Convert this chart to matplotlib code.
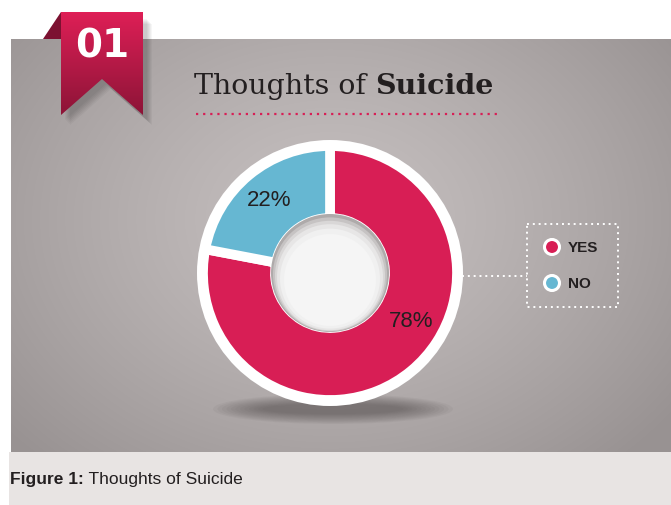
import numpy as np
import matplotlib
matplotlib.use('Agg')
import matplotlib.pyplot as plt
from matplotlib.patches import Polygon, Circle, Ellipse, Rectangle

# chart data
answers = ['YES', 'NO']
shares = [78, 22]
share_labels = ['78%', '22%']
slice_colors = ['#d81e55', '#66b7d2']
title_plain = 'Thoughts of '
title_bold = 'Suicide'
badge = '01'
caption_bold = 'Figure 1:'
caption_rest = ' Thoughts of Suicide'

W, H = 671, 506
narrow = ['Liberation Sans Narrow', 'Liberation Sans']
ink = '#231f20'

fig = plt.figure(figsize=(W / 100, H / 100), dpi=100)
fig.patch.set_facecolor('white')
ax = fig.add_axes([0, 0, 1, 1])
ax.set_xlim(0, W)
ax.set_ylim(H, 0)
ax.axis('off')

# gray panel with radial shading
px0, px1, py0, py1 = 11, W, 40, 453
yy, xx = np.mgrid[py0:py1, px0:px1]
d = np.clip(np.hypot((xx - 330) / 430, (yy - 220) / 330), 0, 1)
light = np.array([197, 191, 191]) / 255
dark = np.array([152, 146, 146]) / 255
img = light + (dark - light) * (d ** 1.3)[..., None]
ax.imshow(img, extent=(px0, px1, py1, py0), origin='upper', aspect='auto', zorder=0)

# caption band
ax.add_patch(Rectangle((9, 453), W - 9, 53, facecolor='#e8e4e3', edgecolor='none', zorder=1))
cap = ax.text(10, 480, caption_bold, family=narrow, weight='bold', fontsize=12.5,
              color=ink, va='center', ha='left', zorder=2)
ax.annotate(caption_rest, xy=(1, 0.5), xycoords=cap, va='center', ha='left',
            family=narrow, fontsize=12.5, color=ink, zorder=2)

# ribbon badge
ax.add_patch(Polygon([(43, 40), (61, 13), (61, 40)], closed=True,
                     facecolor='#7c1131', edgecolor='none', zorder=3))
for k in range(6):
    ax.add_patch(Polygon([(65 + k, 20 + k), (147 + k, 20 + k), (147 + k, 121 + k),
                          (106 + k, 85 + k), (65 + k, 121 + k)], closed=True,
                         facecolor='black', alpha=0.035, edgecolor='none', zorder=3))
rib = Polygon([(61, 13), (143, 13), (143, 116), (102, 80), (61, 116)], closed=True,
              facecolor='none', edgecolor='none', zorder=4)
ax.add_patch(rib)
grad = np.linspace(0, 1, 100)[:, None, None]
top_c = np.array([222, 31, 86]) / 255
bot_c = np.array([140, 20, 55]) / 255
rib_img = top_c + (bot_c - top_c) * grad
rib_img = np.repeat(rib_img, 2, axis=1)
im = ax.imshow(rib_img, extent=(61, 143, 116, 13), origin='upper', aspect='auto', zorder=4)
im.set_clip_path(rib)
ax.text(102, 46, badge, color='white', fontsize=28, weight='bold', family='DejaVu Sans',
        ha='center', va='center', zorder=5)

# title
t1 = ax.text(194, 100, title_plain, family='DejaVu Serif', fontsize=20.5, color=ink,
             ha='left', va='bottom', zorder=5)
ax.annotate(title_bold, xy=(1, 0), xycoords=t1, family='DejaVu Serif', weight='bold',
            fontsize=20.5, color=ink, ha='left', va='bottom', zorder=5)
ax.plot([196, 499], [115, 115], color='#d81e55', lw=1.6, ls=(0, (1, 2.2)), zorder=5)

# shadow under the donut
for k in range(12):
    ax.add_patch(Ellipse((333, 410), 240 - k * 9, 30 - k * 1.8, facecolor='#4a4444',
                         alpha=0.055, edgecolor='none', zorder=2))

# legend
ax.add_patch(Rectangle((527, 225), 91, 83, facecolor='none', edgecolor='white',
                       lw=1.4, ls=(0, (1, 2)), zorder=5))
ax.plot([462, 527], [277, 277], color='white', lw=1.4, ls=(0, (1, 2)), zorder=5)
for i, (name, col) in enumerate(zip(answers, slice_colors)):
    y = 248 + i * 36
    ax.add_patch(Circle((552, y), 7.5, facecolor=col, edgecolor='white', lw=2.2, zorder=6))
    ax.text(568, y, name, family=narrow, weight='bold', fontsize=11, color=ink,
            ha='left', va='center', zorder=6)

# donut
cx, cy, half = 330, 274, 136
pax = fig.add_axes([(cx - half) / W, (H - cy - half) / H, 2 * half / W, 2 * half / H])
pax.set_facecolor('none')
pax.add_patch(Circle((0, 0), 133, facecolor='white', edgecolor='none', zorder=0))
wedges, _ = pax.pie(shares, colors=slice_colors, startangle=90, counterclock=False,
                    radius=127, wedgeprops=dict(width=72, edgecolor='white', linewidth=7))
for w in wedges:
    w.set_zorder(1)
# inner hole with soft inner shadow
pax.add_patch(Circle((0, 0), 59, facecolor='#aeaaaa', edgecolor='none', zorder=2))
for k, (r, c) in enumerate([(57, '#c6c3c3'), (55, '#d9d7d7'), (53, '#e7e6e6'), (50, '#f0f0f0'), (46, '#f5f5f5')]):
    pax.add_patch(Circle((0, -1.4 * (k + 1)), r, facecolor=c, edgecolor='none', zorder=2))
label_pos = [(-30.6, 94), (129.6, 96)]
for lab, (ang, r) in zip(share_labels, label_pos):
    a = np.deg2rad(ang)
    pax.text(r * np.cos(a), r * np.sin(a), lab, family='Liberation Sans', fontsize=16,
             color=ink, ha='center', va='center', zorder=3)
pax.set_xlim(-half, half)
pax.set_ylim(-half, half)
pax.set_aspect('equal')
pax.axis('off')

fig.savefig('out.png', dpi=100)
